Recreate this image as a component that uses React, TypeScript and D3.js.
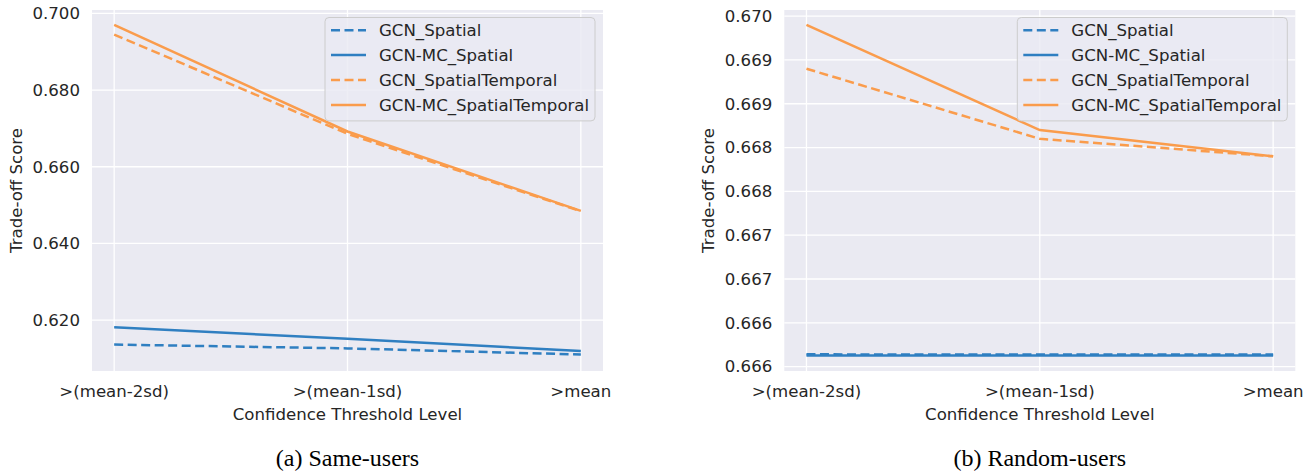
import * as d3 from "d3";
import React from "react";

// x categories shared by both panels
const levels = [">(mean-2sd)", ">(mean-1sd)", ">mean"];

const seriesNames = ["GCN_Spatial", "GCN-MC_Spatial", "GCN_SpatialTemporal", "GCN-MC_SpatialTemporal"];
const seriesColors = ["#2f7fc1", "#2f7fc1", "#fa9c4c", "#fa9c4c"];
const seriesDashed = [true, false, true, false];

// (a) Same-users
const sameGcnSpatial = [0.6136, 0.6126, 0.6110];
const sameMcSpatial = [0.6181, 0.6151, 0.6119];
const sameGcnST = [0.6945, 0.6686, 0.6484];
const sameMcST = [0.6970, 0.6692, 0.6485];
const sameTicks = [0.62, 0.64, 0.66, 0.68, 0.70];
const sameTickLabels = ["0.620", "0.640", "0.660", "0.680", "0.700"];

// (b) Random-users
const randGcnSpatial = [0.666140, 0.666138, 0.666138];
const randMcSpatial = [0.666128, 0.666128, 0.666128];
const randGcnST = [0.66940, 0.66860, 0.66840];
const randMcST = [0.66990, 0.66870, 0.66840];
const randTicks = [0.666, 0.6665, 0.667, 0.6675, 0.668, 0.6685, 0.669, 0.6695, 0.670];
const randTickLabels = ["0.666", "0.666", "0.667", "0.667", "0.668", "0.668", "0.669", "0.669", "0.670"];

const font = "'DejaVu Sans', sans-serif";
const textColor = "#262626";
const fs = 16.6;

type PanelProps = {
  left: number;
  right: number;
  top: number;
  bottom: number;
  domain: [number, number];
  series: number[][];
  ticks: number[];
  tickLabels: string[];
  caption: string;
};

function Panel({ left, right, top, bottom, domain, series, ticks, tickLabels, caption }: PanelProps) {
  const plotW = right - left;
  const x = d3.scalePoint<string>().domain(levels).range([left, right]).padding(0.095);
  const y = d3.scaleLinear().domain(domain).range([bottom, top]);
  const line = d3
    .line<number>()
    .x((_, i) => x(levels[i]) as number)
    .y((d) => y(d));

  const legW = 270;
  const legH = 103.4;
  const legX = right - 8 - legW;
  const legY = top + 7.5;
  const cx = (left + right) / 2;

  return (
    <g>
      <rect x={left} y={top} width={plotW} height={bottom - top} fill="#eaeaf2" />
      {ticks.map((t, i) => (
        <g key={"y" + i}>
          <line x1={left} x2={right} y1={y(t)} y2={y(t)} stroke="#fff" strokeWidth={1.3} />
          <text x={left - 12} y={y(t)} dy="0.35em" textAnchor="end" fontSize={fs} fontFamily={font} fill={textColor}>
            {tickLabels[i]}
          </text>
        </g>
      ))}
      {levels.map((l) => (
        <g key={l}>
          <line x1={x(l)} x2={x(l)} y1={top} y2={bottom} stroke="#fff" strokeWidth={1.3} />
          <text x={x(l)} y={396.5} textAnchor="middle" fontSize={fs} fontFamily={font} fill={textColor}>
            {l}
          </text>
        </g>
      ))}
      <text x={cx} y={419.5} textAnchor="middle" fontSize={fs} fontFamily={font} fill={textColor}>
        Confidence Threshold Level
      </text>
      <text
        transform={`translate(${left - 70},${(top + bottom) / 2}) rotate(-90)`}
        textAnchor="middle"
        fontSize={fs}
        fontFamily={font}
        fill={textColor}
      >
        Trade-off Score
      </text>
      {series.map((s, i) => (
        <path
          key={"s" + i}
          d={line(s) as string}
          fill="none"
          stroke={seriesColors[i]}
          strokeWidth={2.5}
          strokeDasharray={seriesDashed[i] ? "9,4.5" : undefined}
        />
      ))}
      <rect x={legX} y={legY} width={legW} height={legH} rx={4} fill="rgba(234,234,242,0.8)" stroke="#cccccc" strokeWidth={1} />
      {seriesNames.map((n, i) => {
        const ly = legY + 12.7 + i * 24.9;
        return (
          <g key={n}>
            <line
              x1={legX + 6}
              x2={legX + 41}
              y1={ly}
              y2={ly}
              stroke={seriesColors[i]}
              strokeWidth={2.5}
              strokeDasharray={seriesDashed[i] ? "9,4.5" : undefined}
            />
            <text x={legX + 54} y={ly} dy="0.35em" fontSize={fs} fontFamily={font} fill={textColor}>
              {n}
            </text>
          </g>
        );
      })}
      <text x={cx} y={466} textAnchor="middle" fontSize={24} fontFamily="'Liberation Serif', serif" fill="#000">
        {caption}
      </text>
    </g>
  );
}

export default function App() {
  return (
    <svg
      width={1312}
      height={472}
      style={{ position: "absolute", left: 0, top: 0, background: "#fff" }}
    >
      <Panel
        left={92}
        right={603}
        top={10}
        bottom={371}
        domain={[0.6067, 0.7009]}
        series={[sameGcnSpatial, sameMcSpatial, sameGcnST, sameMcST]}
        ticks={sameTicks}
        tickLabels={sameTickLabels}
        caption="(a)  Same-users"
      />
      <Panel
        left={784.3}
        right={1295.3}
        top={10}
        bottom={371}
        domain={[0.66595, 0.67007]}
        series={[randGcnSpatial, randMcSpatial, randGcnST, randMcST]}
        ticks={randTicks}
        tickLabels={randTickLabels}
        caption="(b)  Random-users"
      />
    </svg>
  );
}
